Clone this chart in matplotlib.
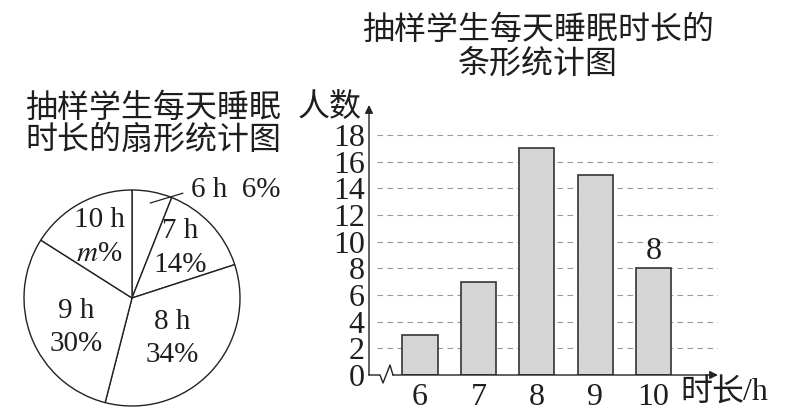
import matplotlib
matplotlib.use("Agg")
import matplotlib.pyplot as plt

plt.rcParams["font.family"] = ["Liberation Serif", "Noto Sans CJK SC", "DejaVu Sans"]
plt.rcParams["mathtext.fontset"] = "stix"

# data
hours = [6, 7, 8, 9, 10]
counts = [3, 7, 17, 15, 8]
pie_pct = [6, 14, 34, 30, 16]
pie_hour_labels = ["6 h", "7 h", "8 h", "9 h", "10 h"]
pie_pct_labels = ["6%", "14%", "34%", "30%", "$m$%"]
y_ticks = [0, 2, 4, 6, 8, 10, 12, 14, 16, 18]

W, H = 791, 420
fig = plt.figure(figsize=(W / 100, H / 100), dpi=100)
cjk = ["Noto Sans CJK SC", "DejaVu Sans"]
ink = "#1e1e1e"
num_size = 21

# ---- pie ----
cx, cy, r = 132, 298, 108
ax_pie = fig.add_axes([(cx - r) / W, (H - cy - r) / H, 2 * r / W, 2 * r / H])
ax_pie.pie(pie_pct, startangle=90, counterclock=False, colors=["white"] * 5,
           wedgeprops=dict(edgecolor="#222222", linewidth=1.0))
ax_pie.set_xlim(-1, 1)
ax_pie.set_ylim(-1, 1)
ax_pie.set_aspect("equal")
ax_pie.axis("off")

# label positions in pie coordinates (radius 1)
label_pos = {
    "7 h": (0.45, 0.62), "8 h": (0.37, -0.22), "9 h": (-0.52, -0.12), "10 h": (-0.30, 0.72),
}
for h, p in zip(pie_hour_labels, pie_pct_labels):
    if h == "6 h":
        continue
    x, y = label_pos[h]
    ax_pie.text(x, y, h, ha="center", va="center", fontsize=num_size, color=ink)
    ax_pie.text(x, y - 0.31, p, ha="center", va="center", fontsize=num_size, color=ink)
# outside label for 6 h
ax_pie.plot([0.17, 0.47], [0.88, 0.97], color="#222222", lw=0.9, clip_on=False)
ax_pie.text(0.55, 1.0, "6 h  6%", ha="left", va="center", fontsize=num_size,
            color=ink, clip_on=False)

fig.text(25 / W, 1 - 108 / H, "抽样学生每天睡眠", fontsize=23, family=cjk,
         weight="light", ha="left", va="center", color=ink)
fig.text(25 / W, 1 - 140 / H, "时长的扇形统计图", fontsize=23, family=cjk,
         weight="light", ha="left", va="center", color=ink)

# ---- bar chart ----
x0, y0, x1, y1 = 369, 375, 718, 105
ax = fig.add_axes([x0 / W, (H - y0) / H, (x1 - x0) / W, (y0 - y1) / H])
px_per_x = 58.4
xl = 6 - (420 - x0) / px_per_x
xr = 6 + (x1 - 420) / px_per_x
ax.set_xlim(xl, xr)
ax.set_ylim(0, 20.25)

for t in y_ticks[1:]:
    ax.plot([xl + 0.14, xr], [t, t], color="#999999", lw=0.8, ls=(0, (5, 4)), zorder=1)

ax.bar(hours, counts, width=0.6, color="#d6d6d6", edgecolor="#333333",
       linewidth=1.2, zorder=2)
ax.text(10, 8.2, "8", ha="center", va="bottom", fontsize=23, color=ink)

for s in ["top", "right", "bottom", "left"]:
    ax.spines[s].set_visible(False)
ax.set_yticks(y_ticks)
ax.set_yticklabels([str(t) for t in y_ticks], fontsize=23, color=ink)
ax.set_xticks(hours)
ax.set_xticklabels([str(h) for h in hours], fontsize=23, color=ink)
ax.tick_params(axis="both", length=0, pad=3)
ax.tick_params(axis="x", pad=6)

# y axis with arrow
ax.annotate("", xy=(0, 1.0), xytext=(0, 0), xycoords="axes fraction",
            arrowprops=dict(arrowstyle="-|>", color="#222222", lw=1.0,
                            mutation_scale=12, shrinkA=0, shrinkB=0))
# x axis with break and arrow
zig_px = [(369, 375), (380, 375), (383, 383), (390, 365), (393, 375)]
ax.plot([(px - x0) / (x1 - x0) for px, _ in zig_px],
        [(y0 - py) / (y0 - y1) for _, py in zig_px],
        color="#222222", lw=1.0, transform=ax.transAxes, clip_on=False)
ax.annotate("", xy=(1.0, 0), xytext=((393 - x0) / (x1 - x0), 0), xycoords="axes fraction",
            arrowprops=dict(arrowstyle="-|>", color="#222222", lw=1.0,
                            mutation_scale=12, shrinkA=0, shrinkB=0))

fig.text(330 / W, 1 - 107 / H, "人数", fontsize=23, family=cjk, weight="light",
         ha="center", va="center", color=ink)
fig.text(680 / W, 1 - 393 / H, "时长", fontsize=23, family=cjk, weight="light",
         ha="left", va="center", color=ink)
fig.text(743 / W, 1 - 393 / H, "/h", fontsize=23, ha="left", va="center", color=ink)

fig.text(538 / W, 1 - 30 / H, "抽样学生每天睡眠时长的", fontsize=23, family=cjk,
         weight="light", ha="center", va="center", color=ink)
fig.text(538 / W, 1 - 64 / H, "条形统计图", fontsize=23, family=cjk,
         weight="light", ha="center", va="center", color=ink)

fig.savefig("out.png", dpi=100, facecolor="white")
